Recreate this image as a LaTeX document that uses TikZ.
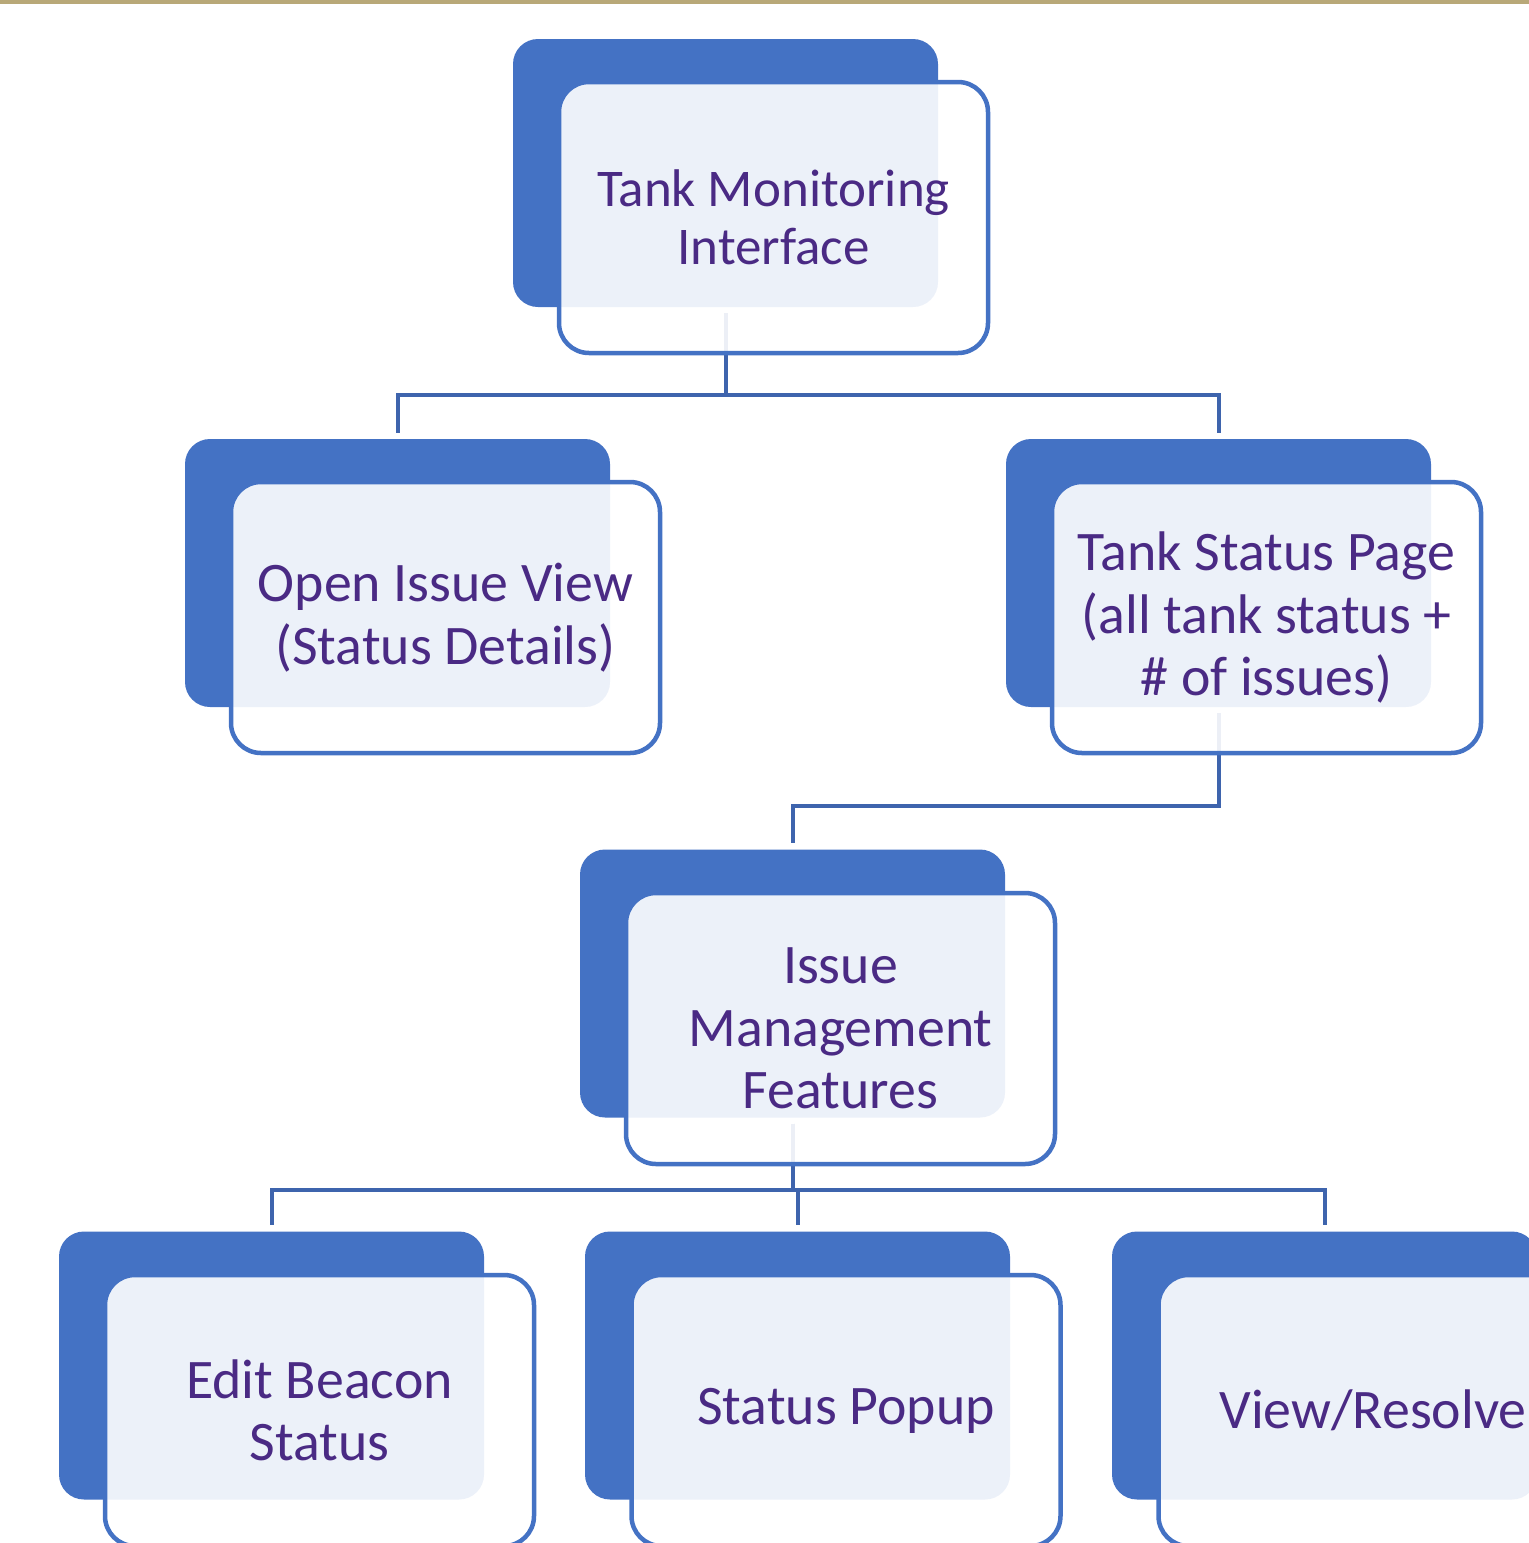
\documentclass[tikz,border=0pt]{standalone}
\usepackage{fontspec}
\setmainfont{Carlito}
\usetikzlibrary{backgrounds}
\definecolor{backblue}{HTML}{4472C4}
\definecolor{connblue}{HTML}{3E64AD}
\definecolor{txtpurple}{HTML}{4A2A84}
\definecolor{gold}{HTML}{B8A878}
\tikzset{
  backbox/.style={fill=backblue, draw=none, rounded corners=25pt, minimum width=425pt, minimum height=268pt, inner sep=0pt},
  frontbox/.style={fill=white, fill opacity=0.9, text opacity=1, draw=backblue, line width=4.5pt, rounded corners=30pt, minimum width=429pt, minimum height=271pt, inner sep=4pt, align=center, text=txtpurple, font=\fontsize{55.8}{62.5}\selectfont},
  conn/.style={draw=connblue, line width=4pt, shorten <=6pt, shorten >=6pt}
}
\begin{document}
\begin{tikzpicture}[x=1pt,y=-1pt]
\useasboundingbox (0,0) rectangle (1529,1543);
\clip (0,0) rectangle (1529,1543);
\fill[gold] (0,0) rectangle (1529,3.5);
% back boxes
\node[backbox] (b1) at (725.5,173) {};
\node[backbox] (b2) at (397.5,573) {};
\node[backbox] (b3) at (1218.5,573) {};
\node[backbox] (b4) at (792.5,983.5) {};
\node[backbox] (b5) at (271.5,1365.5) {};
\node[backbox] (b6) at (797.5,1365.5) {};
\node[backbox] (b7) at (1324.5,1365.5) {};
% connectors (behind)
\begin{scope}[on background layer]
\draw[conn] (b1.south) -- ++(0,88) -| (b2.north);
\draw[conn] (b1.south) -- ++(0,88) -| (b3.north);
\draw[conn] (b3.south) -- ++(0,99) -| (b4.north);
\draw[conn] (b4.south) -- ++(0,72) -| (b5.north);
\draw[conn] (b4.south) -- ++(0,72) -| (b6.north);
\draw[conn] (b4.south) -- ++(0,72) -| (b7.north);
\end{scope}
% front boxes
\node[frontbox, font=\fontsize{53}{58}\selectfont] (f1) at (773.5,217.5) {Tank Monitoring\\Interface};
\node[frontbox] (f2) at (445.5,617.5) {Open Issue View\\(Status Details)};
\node[frontbox] (f3) at (1266.5,617.5) {Tank Status Page\\(all tank status +\\\# of issues)};
\node[frontbox] (f4) at (840.5,1028.5) {Issue\\Management\\Features};
\node[frontbox] (f5) at (319.5,1410.5) {Edit Beacon\\Status};
\node[frontbox] (f6) at (846,1410.5) {Status Popup};
\node[frontbox] (f7) at (1373,1410.5) {View/Resolve};
\end{tikzpicture}
\end{document}
